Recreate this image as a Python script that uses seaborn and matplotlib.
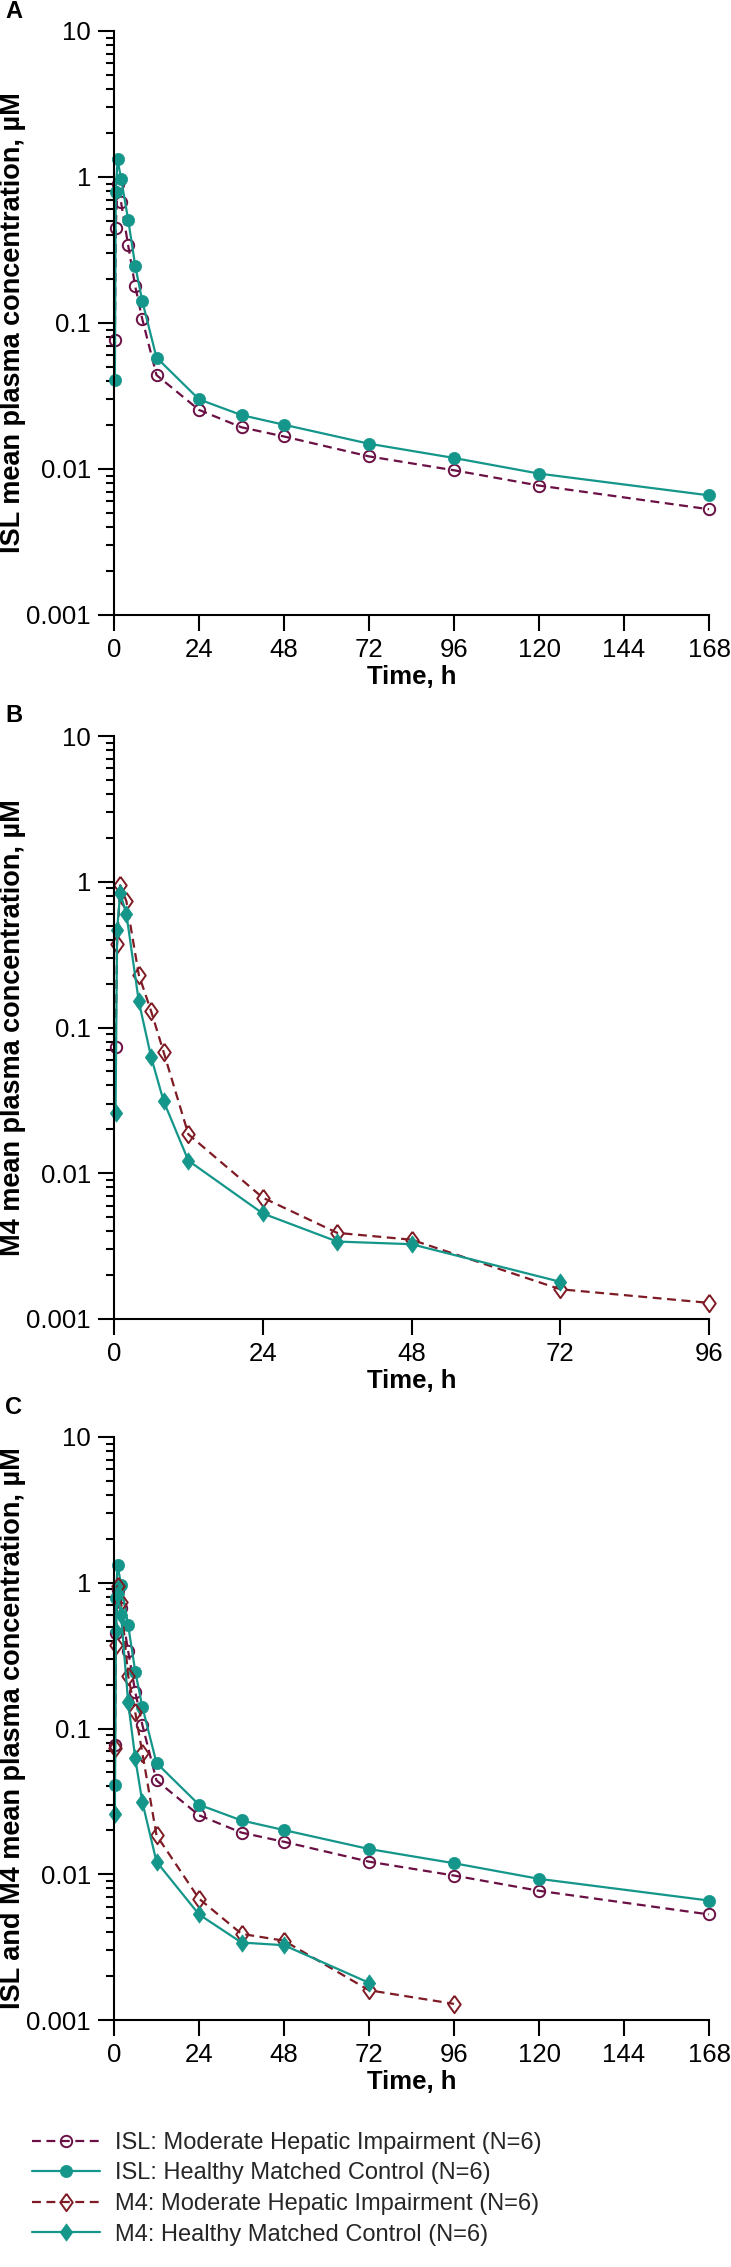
import numpy as np
import pandas as pd
import matplotlib
matplotlib.use("Agg")
import matplotlib.pyplot as plt
import seaborn as sns
from matplotlib.lines import Line2D
from matplotlib.ticker import FixedLocator, LogLocator, NullFormatter

# ---------------- data ----------------
t_isl = [0.25, 0.5, 1, 2, 4, 6, 8, 12, 24, 36, 48, 72, 96, 120, 168]
isl_hmc = [0.041, 0.79, 1.32, 0.97, 0.51, 0.246, 0.141, 0.058, 0.030, 0.0234,
           0.0201, 0.0149, 0.0119, 0.0093, 0.0066]
isl_mhi = [0.077, 0.45, 0.89, 0.67, 0.34, 0.178, 0.106, 0.044, 0.0254, 0.0193,
           0.0167, 0.0122, 0.0098, 0.0077, 0.0053]

t_m4_hmc = [0.25, 0.5, 1, 2, 4, 6, 8, 12, 24, 36, 48, 72]
m4_hmc = [0.0258, 0.466, 0.84, 0.60, 0.151, 0.0624, 0.0313, 0.0122, 0.0053,
          0.0034, 0.00326, 0.0018]
t_m4_mhi = [0.25, 0.5, 1, 2, 4, 6, 8, 12, 24, 36, 48, 72, 96]
m4_mhi = [0.074, 0.374, 0.946, 0.735, 0.23, 0.129, 0.068, 0.0185, 0.0068,
          0.0039, 0.0035, 0.0016, 0.00129]

labels = ["ISL: Moderate Hepatic Impairment (N=6)",
          "ISL: Healthy Matched Control (N=6)",
          "M4: Moderate Hepatic Impairment (N=6)",
          "M4: Healthy Matched Control (N=6)"]
ytick_vals = [0.001, 0.01, 0.1, 1, 10]
ytick_labels = ["0.001", "0.01", "0.1", "1", "10"]
xticks_168 = [0, 24, 48, 72, 96, 120, 144, 168]
xticks_96 = [0, 24, 48, 72, 96]

# ---------------- style ----------------
sns.set_theme(style="ticks")
plt.rcParams["font.family"] = ["Liberation Sans", "DejaVu Sans"]

W, H = 731, 2267
fig = plt.figure(figsize=(W / 100, H / 100), dpi=100)

TEAL = "#14968A"
PURP = "#6A1044"
MAROON = "#7E1B24"
DIAM = [(0, 1), (0.72, 0), (0, -1), (-0.72, 0), (0, 1)]
DASH = (0, (4, 2.5))

st_isl_mhi = dict(color=PURP, marker="o", markersize=8.2, markerfacecolor="none",
                  markeredgecolor=PURP, markeredgewidth=1.4, linestyle=DASH, linewidth=1.6)
st_isl_hmc = dict(color=TEAL, marker="o", markersize=8.8, markerfacecolor=TEAL,
                  markeredgecolor=TEAL, markeredgewidth=0.5, linestyle="-", linewidth=1.6)
st_m4_mhi = dict(color=MAROON, marker=DIAM, markersize=12.5, markerfacecolor="none",
                 markeredgecolor=MAROON, markeredgewidth=1.4, linestyle=DASH, linewidth=1.6)
st_m4_hmc = dict(color=TEAL, marker=DIAM, markersize=12.5, markerfacecolor=TEAL,
                 markeredgecolor=TEAL, markeredgewidth=0.5, linestyle="-", linewidth=1.6)

left = 114 / W
width = 595 / W
axA = fig.add_axes([left, 1 - 615 / H, width, 584 / H])
axB = fig.add_axes([left, 1 - 1319 / H, width, 583 / H])
axC = fig.add_axes([left, 1 - 2020 / H, width, 583 / H])


def series(ax, t, v, st, **extra):
    kw = dict(st)
    kw.update(extra)
    sns.lineplot(x=t, y=v, ax=ax, errorbar=None, clip_on=False, **kw)


def setup(ax, xmax, xticks, ylabel, letter, top_px):
    ax.set_yscale("log")
    ax.set_ylim(0.001, 10)
    ax.set_xlim(0, xmax)
    ax.set_xticks(xticks)
    ax.set_xticklabels([str(v) for v in xticks])
    ax.yaxis.set_major_locator(FixedLocator(ytick_vals))
    ax.set_yticklabels(ytick_labels)
    ax.yaxis.set_minor_locator(LogLocator(base=10, subs=np.arange(2, 10), numticks=30))
    ax.yaxis.set_minor_formatter(NullFormatter())
    sns.despine(ax=ax)
    for s in ["left", "bottom"]:
        ax.spines[s].set_linewidth(1.5)
        ax.spines[s].set_color("black")
    ax.tick_params(axis="both", which="major", length=11.5, width=1.5,
                   labelsize=18.5, pad=5, color="black", labelcolor="black")
    ax.tick_params(axis="y", which="minor", length=6, width=1.5, color="black")
    ax.tick_params(axis="x", which="minor", length=0)
    ax.set_xlabel("Time, h", fontsize=18.5, fontweight="bold", labelpad=2, color="black")
    ax.set_ylabel("")
    ax.set_facecolor("white")
    pos = ax.get_position()
    fig.text(13 / W, pos.y0 + pos.height / 2, ylabel, rotation=90, ha="center",
             va="center", fontsize=19.5, fontweight="bold", color="black")
    fig.text(14 / W, 1 - top_px / H, letter, ha="center", va="center",
             fontsize=17, fontweight="bold", color="black")


# Panel A
series(axA, t_isl, isl_mhi, st_isl_mhi)
series(axA, t_isl, isl_hmc, st_isl_hmc)
setup(axA, 168, xticks_168, "ISL mean plasma concentration, µM", "A", 12)

# Panel B
series(axB, t_m4_mhi, m4_mhi, st_m4_mhi, markevery=list(range(1, len(t_m4_mhi))))
series(axB, t_m4_mhi[:1], m4_mhi[:1], st_isl_mhi)
series(axB, t_m4_hmc, m4_hmc, st_m4_hmc)
setup(axB, 96, xticks_96, "M4 mean plasma concentration, µM", "B", 716)

# Panel C
series(axC, t_isl, isl_mhi, st_isl_mhi)
series(axC, t_isl, isl_hmc, st_isl_hmc)
series(axC, t_m4_mhi, m4_mhi, st_m4_mhi)
series(axC, t_m4_hmc, m4_hmc, st_m4_hmc)
setup(axC, 168, xticks_168, "ISL and M4 mean plasma concentration, µM", "C", 1408)

# Legend
handles = [Line2D([], [], **st_isl_mhi), Line2D([], [], **st_isl_hmc),
           Line2D([], [], **st_m4_mhi), Line2D([], [], **st_m4_hmc)]
fig.legend(handles, labels, loc="upper left", bbox_to_anchor=(32 / W, 1 - 2132 / H),
           frameon=False, fontsize=17, handlelength=2.9, handletextpad=0.62,
           labelspacing=0.36, borderpad=0, borderaxespad=0)

fig.savefig("out.png", dpi=100, facecolor="white")
